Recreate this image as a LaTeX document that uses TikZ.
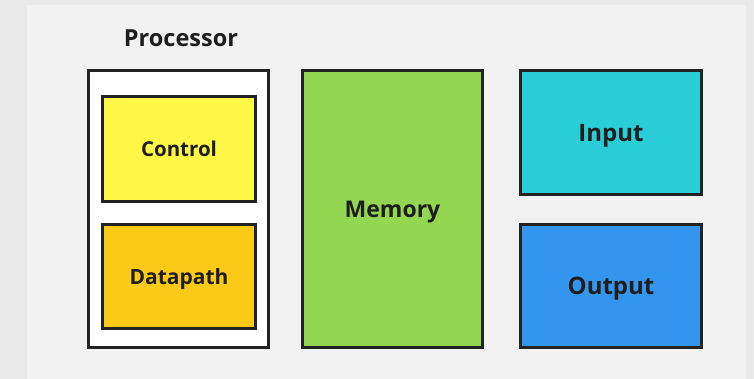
\documentclass[tikz,border=0pt]{standalone}
\usepackage{fontspec}
\setmainfont{Open Sans}[BoldFont={* Bold}]
\definecolor{outerbg}{HTML}{E9E9E9}
\definecolor{innerbg}{HTML}{F2F2F2}
\definecolor{edge}{HTML}{222222}
\definecolor{ctrlc}{HTML}{FFF645}
\definecolor{datac}{HTML}{FACA16}
\definecolor{memc}{HTML}{93D651}
\definecolor{inc}{HTML}{29CDD6}
\definecolor{outc}{HTML}{3395ED}
\definecolor{txt}{HTML}{1E1E1E}
\tikzset{
  unitbox/.style={draw=edge, line width=3pt, inner sep=0pt, text=txt, text depth=0pt},
  fsz/.style={font=\bfseries\fontsize{#1}{#1}\selectfont},
}
\begin{document}
\begin{tikzpicture}[x=1pt,y=-1pt]
\useasboundingbox (0,0) rectangle (754,379);
\fill[outerbg] (0,0) rectangle (754,379);
\fill[innerbg] (27,5) rectangle (746,379);
\node[text=txt, fsz=23.5, text depth=0pt] (plabel) at (181,38) {Processor};
\node[unitbox, fill=white, minimum width=180pt, minimum height=277pt] (proc) at (178.5,209) {};
\node[unitbox, fill=ctrlc, minimum width=153pt, minimum height=105pt, fsz=20.5] (ctrl) at (179,149) {Control};
\node[unitbox, fill=datac, minimum width=153pt, minimum height=104pt, fsz=21] (dp) at (179,276.5) {Datapath};
\node[unitbox, fill=memc, minimum width=180pt, minimum height=277pt, fsz=23] (mem) at (392.5,209) {Memory};
\node[unitbox, fill=inc, minimum width=181pt, minimum height=124pt, fsz=24] (in) at (611,132.5) {Input};
\node[unitbox, fill=outc, minimum width=181pt, minimum height=123pt, fsz=24] (out) at (611,286) {Output};
\end{tikzpicture}
\end{document}
